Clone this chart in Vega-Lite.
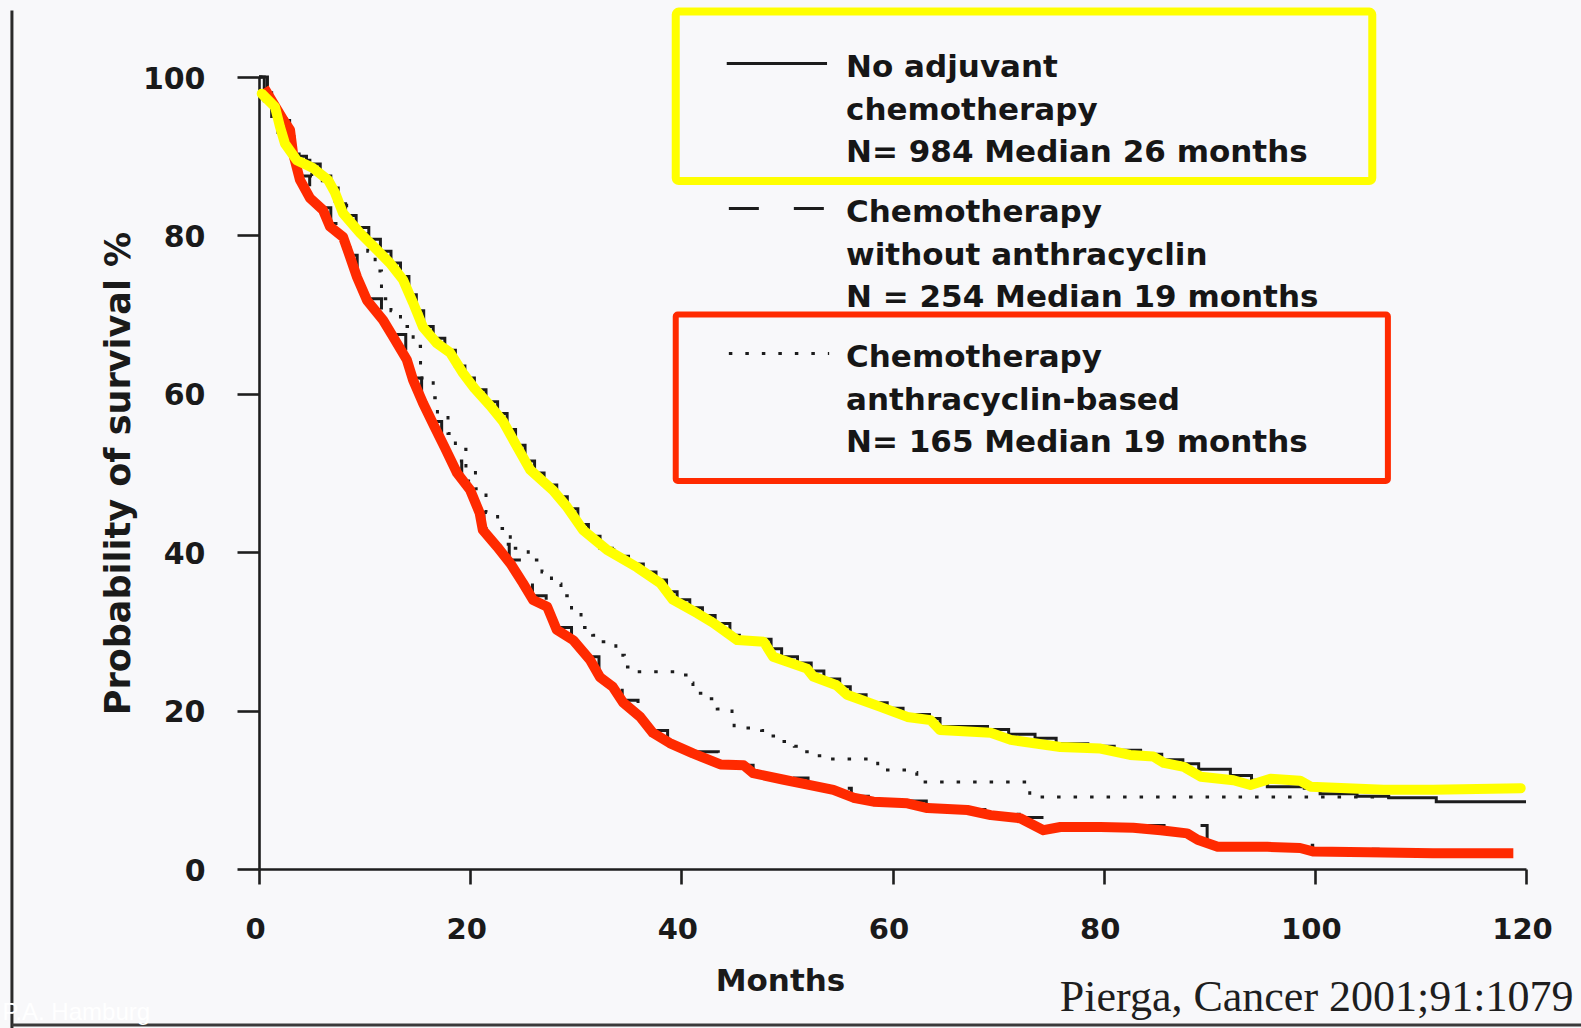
{
  "$schema": "https://vega.github.io/schema/vega-lite/v6.json",
  "width": 1267,
  "height": 792,
  "autosize": {"type": "none"},
  "padding": {"left": 259, "top": 77, "right": 55, "bottom": 159},
  "background": "#f8f8fa",
  "config": {
    "view": {"stroke": null},
    "font": "DejaVu Sans",
    "axis": {
      "grid": false,
      "labelFlush": false,
      "domainColor": "#1e1e1e",
      "domainWidth": 2.6,
      "tickColor": "#1e1e1e",
      "tickWidth": 2.6,
      "labelColor": "#1a1a1a",
      "labelFont": "DejaVu Sans",
      "labelFontWeight": "bold",
      "titleColor": "#1a1a1a",
      "titleFont": "DejaVu Sans",
      "titleFontWeight": "bold"
    }
  },
  "datasets": {
    "km": [
      {"series": "No adjuvant chemotherapy", "month": 0, "survival": 100},
      {"series": "No adjuvant chemotherapy", "month": 0.5, "survival": 97},
      {"series": "No adjuvant chemotherapy", "month": 1.2, "survival": 95},
      {"series": "No adjuvant chemotherapy", "month": 1.8, "survival": 93},
      {"series": "No adjuvant chemotherapy", "month": 2.4, "survival": 91.5},
      {"series": "No adjuvant chemotherapy", "month": 3.2, "survival": 90},
      {"series": "No adjuvant chemotherapy", "month": 4.5, "survival": 89},
      {"series": "No adjuvant chemotherapy", "month": 5.8, "survival": 87.5},
      {"series": "No adjuvant chemotherapy", "month": 6.8, "survival": 86},
      {"series": "No adjuvant chemotherapy", "month": 7.5, "survival": 84},
      {"series": "No adjuvant chemotherapy", "month": 8.2, "survival": 82.5},
      {"series": "No adjuvant chemotherapy", "month": 9.2, "survival": 81},
      {"series": "No adjuvant chemotherapy", "month": 10.4, "survival": 79.5},
      {"series": "No adjuvant chemotherapy", "month": 11.5, "survival": 78},
      {"series": "No adjuvant chemotherapy", "month": 12.5, "survival": 76.5},
      {"series": "No adjuvant chemotherapy", "month": 13.4, "survival": 74.8},
      {"series": "No adjuvant chemotherapy", "month": 14.2, "survival": 72.5},
      {"series": "No adjuvant chemotherapy", "month": 14.9, "survival": 70.5},
      {"series": "No adjuvant chemotherapy", "month": 15.6, "survival": 68.5},
      {"series": "No adjuvant chemotherapy", "month": 16.5, "survival": 67},
      {"series": "No adjuvant chemotherapy", "month": 17.6, "survival": 65.5},
      {"series": "No adjuvant chemotherapy", "month": 18.6, "survival": 63.5},
      {"series": "No adjuvant chemotherapy", "month": 19.5, "survival": 62},
      {"series": "No adjuvant chemotherapy", "month": 20.4, "survival": 60.5},
      {"series": "No adjuvant chemotherapy", "month": 21.5, "survival": 59},
      {"series": "No adjuvant chemotherapy", "month": 22.6, "survival": 57.5},
      {"series": "No adjuvant chemotherapy", "month": 23.5, "survival": 55.5},
      {"series": "No adjuvant chemotherapy", "month": 24.3, "survival": 53.5},
      {"series": "No adjuvant chemotherapy", "month": 25.2, "survival": 51.5},
      {"series": "No adjuvant chemotherapy", "month": 26.1, "survival": 50},
      {"series": "No adjuvant chemotherapy", "month": 27.0, "survival": 48.5},
      {"series": "No adjuvant chemotherapy", "month": 28.2, "survival": 47},
      {"series": "No adjuvant chemotherapy", "month": 29.2, "survival": 45.5},
      {"series": "No adjuvant chemotherapy", "month": 30.2, "survival": 43.5},
      {"series": "No adjuvant chemotherapy", "month": 31.2, "survival": 42},
      {"series": "No adjuvant chemotherapy", "month": 32.3, "survival": 40.5},
      {"series": "No adjuvant chemotherapy", "month": 33.6, "survival": 39.5},
      {"series": "No adjuvant chemotherapy", "month": 35.0, "survival": 38.5},
      {"series": "No adjuvant chemotherapy", "month": 36.4, "survival": 37.5},
      {"series": "No adjuvant chemotherapy", "month": 37.6, "survival": 36.5},
      {"series": "No adjuvant chemotherapy", "month": 38.6, "survival": 35},
      {"series": "No adjuvant chemotherapy", "month": 39.6, "survival": 34},
      {"series": "No adjuvant chemotherapy", "month": 40.8, "survival": 33},
      {"series": "No adjuvant chemotherapy", "month": 42.0, "survival": 32},
      {"series": "No adjuvant chemotherapy", "month": 43.2, "survival": 31},
      {"series": "No adjuvant chemotherapy", "month": 44.6, "survival": 29.5},
      {"series": "No adjuvant chemotherapy", "month": 45.5, "survival": 29},
      {"series": "No adjuvant chemotherapy", "month": 48.5, "survival": 27.8},
      {"series": "No adjuvant chemotherapy", "month": 49.5, "survival": 26.8},
      {"series": "No adjuvant chemotherapy", "month": 51.0, "survival": 26},
      {"series": "No adjuvant chemotherapy", "month": 52.3, "survival": 25},
      {"series": "No adjuvant chemotherapy", "month": 53.5, "survival": 24},
      {"series": "No adjuvant chemotherapy", "month": 55.0, "survival": 23},
      {"series": "No adjuvant chemotherapy", "month": 56.0, "survival": 22},
      {"series": "No adjuvant chemotherapy", "month": 57.5, "survival": 21},
      {"series": "No adjuvant chemotherapy", "month": 59.5, "survival": 20.3},
      {"series": "No adjuvant chemotherapy", "month": 61.0, "survival": 19.5},
      {"series": "No adjuvant chemotherapy", "month": 63.5, "survival": 19},
      {"series": "No adjuvant chemotherapy", "month": 64.5, "survival": 18},
      {"series": "No adjuvant chemotherapy", "month": 69.0, "survival": 17.6},
      {"series": "No adjuvant chemotherapy", "month": 71.0, "survival": 17},
      {"series": "No adjuvant chemotherapy", "month": 73.5, "survival": 16.5},
      {"series": "No adjuvant chemotherapy", "month": 75.5, "survival": 15.8},
      {"series": "No adjuvant chemotherapy", "month": 78.5, "survival": 15.5},
      {"series": "No adjuvant chemotherapy", "month": 81.0, "survival": 15},
      {"series": "No adjuvant chemotherapy", "month": 83.5, "survival": 14.5},
      {"series": "No adjuvant chemotherapy", "month": 85.5, "survival": 13.8},
      {"series": "No adjuvant chemotherapy", "month": 87.5, "survival": 13.3},
      {"series": "No adjuvant chemotherapy", "month": 89.0, "survival": 12.6},
      {"series": "No adjuvant chemotherapy", "month": 92.0, "survival": 11.8},
      {"series": "No adjuvant chemotherapy", "month": 94.0, "survival": 11.2},
      {"series": "No adjuvant chemotherapy", "month": 95.5, "survival": 10.4},
      {"series": "No adjuvant chemotherapy", "month": 99.0, "survival": 10.2},
      {"series": "No adjuvant chemotherapy", "month": 100.5, "survival": 9.5},
      {"series": "No adjuvant chemotherapy", "month": 104.0, "survival": 9.2},
      {"series": "No adjuvant chemotherapy", "month": 107.0, "survival": 9.0},
      {"series": "No adjuvant chemotherapy", "month": 111.5, "survival": 8.5},
      {"series": "No adjuvant chemotherapy", "month": 120.0, "survival": 8.5},

      {"series": "Chemotherapy without anthracyclin", "month": 0, "survival": 100},
      {"series": "Chemotherapy without anthracyclin", "month": 0.8, "survival": 98},
      {"series": "Chemotherapy without anthracyclin", "month": 1.6, "survival": 96},
      {"series": "Chemotherapy without anthracyclin", "month": 2.3, "survival": 94.5},
      {"series": "Chemotherapy without anthracyclin", "month": 2.9, "survival": 92.5},
      {"series": "Chemotherapy without anthracyclin", "month": 3.3, "survival": 90},
      {"series": "Chemotherapy without anthracyclin", "month": 3.9, "survival": 87.5},
      {"series": "Chemotherapy without anthracyclin", "month": 4.8, "survival": 85},
      {"series": "Chemotherapy without anthracyclin", "month": 6.0, "survival": 83.5},
      {"series": "Chemotherapy without anthracyclin", "month": 6.8, "survival": 81.5},
      {"series": "Chemotherapy without anthracyclin", "month": 7.9, "survival": 80},
      {"series": "Chemotherapy without anthracyclin", "month": 8.6, "survival": 77.5},
      {"series": "Chemotherapy without anthracyclin", "month": 9.3, "survival": 75},
      {"series": "Chemotherapy without anthracyclin", "month": 10.2, "survival": 72},
      {"series": "Chemotherapy without anthracyclin", "month": 11.6, "survival": 69.5},
      {"series": "Chemotherapy without anthracyclin", "month": 12.7, "survival": 67.5},
      {"series": "Chemotherapy without anthracyclin", "month": 13.9, "survival": 64.5},
      {"series": "Chemotherapy without anthracyclin", "month": 14.6, "survival": 62},
      {"series": "Chemotherapy without anthracyclin", "month": 15.4, "survival": 59},
      {"series": "Chemotherapy without anthracyclin", "month": 16.4, "survival": 56.5},
      {"series": "Chemotherapy without anthracyclin", "month": 17.3, "survival": 54},
      {"series": "Chemotherapy without anthracyclin", "month": 18.3, "survival": 51.5},
      {"series": "Chemotherapy without anthracyclin", "month": 19.2, "survival": 49},
      {"series": "Chemotherapy without anthracyclin", "month": 20.2, "survival": 47.5},
      {"series": "Chemotherapy without anthracyclin", "month": 20.9, "survival": 45},
      {"series": "Chemotherapy without anthracyclin", "month": 21.3, "survival": 43},
      {"series": "Chemotherapy without anthracyclin", "month": 22.4, "survival": 41},
      {"series": "Chemotherapy without anthracyclin", "month": 23.7, "survival": 39},
      {"series": "Chemotherapy without anthracyclin", "month": 24.9, "survival": 36.5},
      {"series": "Chemotherapy without anthracyclin", "month": 25.9, "survival": 34.5},
      {"series": "Chemotherapy without anthracyclin", "month": 27.2, "survival": 33.2},
      {"series": "Chemotherapy without anthracyclin", "month": 28.1, "survival": 30.5},
      {"series": "Chemotherapy without anthracyclin", "month": 29.6, "survival": 29},
      {"series": "Chemotherapy without anthracyclin", "month": 31.2, "survival": 26.8},
      {"series": "Chemotherapy without anthracyclin", "month": 32.2, "survival": 24.5},
      {"series": "Chemotherapy without anthracyclin", "month": 33.4, "survival": 23.2},
      {"series": "Chemotherapy without anthracyclin", "month": 34.4, "survival": 21.3},
      {"series": "Chemotherapy without anthracyclin", "month": 35.9, "survival": 19.5},
      {"series": "Chemotherapy without anthracyclin", "month": 37.1, "survival": 17.5},
      {"series": "Chemotherapy without anthracyclin", "month": 38.7, "survival": 16},
      {"series": "Chemotherapy without anthracyclin", "month": 40.8, "survival": 14.8},
      {"series": "Chemotherapy without anthracyclin", "month": 43.5, "survival": 13.5},
      {"series": "Chemotherapy without anthracyclin", "month": 45.7, "survival": 13.1},
      {"series": "Chemotherapy without anthracyclin", "month": 46.8, "survival": 12.2},
      {"series": "Chemotherapy without anthracyclin", "month": 49.4, "survival": 11.5},
      {"series": "Chemotherapy without anthracyclin", "month": 52.0, "survival": 10.8},
      {"series": "Chemotherapy without anthracyclin", "month": 54.2, "survival": 10.2},
      {"series": "Chemotherapy without anthracyclin", "month": 56.1, "survival": 9.2},
      {"series": "Chemotherapy without anthracyclin", "month": 58.0, "survival": 8.6},
      {"series": "Chemotherapy without anthracyclin", "month": 63.2, "survival": 7.9},
      {"series": "Chemotherapy without anthracyclin", "month": 66.9, "survival": 7.5},
      {"series": "Chemotherapy without anthracyclin", "month": 69.2, "survival": 6.9},
      {"series": "Chemotherapy without anthracyclin", "month": 72.0, "survival": 6.5},
      {"series": "Chemotherapy without anthracyclin", "month": 74.4, "survival": 5.5},
      {"series": "Chemotherapy without anthracyclin", "month": 89.8, "survival": 3.0},
      {"series": "Chemotherapy without anthracyclin", "month": 99.8, "survival": 2.5},
      {"series": "Chemotherapy without anthracyclin", "month": 106.0, "survival": 2.2},
      {"series": "Chemotherapy without anthracyclin", "month": 118.0, "survival": 2.2},

      {"series": "Chemotherapy anthracyclin-based", "month": 0, "survival": 100},
      {"series": "Chemotherapy anthracyclin-based", "month": 0.6, "survival": 97},
      {"series": "Chemotherapy anthracyclin-based", "month": 1.5, "survival": 95},
      {"series": "Chemotherapy anthracyclin-based", "month": 2.2, "survival": 93},
      {"series": "Chemotherapy anthracyclin-based", "month": 3.0, "survival": 91},
      {"series": "Chemotherapy anthracyclin-based", "month": 3.8, "survival": 89.5},
      {"series": "Chemotherapy anthracyclin-based", "month": 5.0, "survival": 87.5},
      {"series": "Chemotherapy anthracyclin-based", "month": 6.0, "survival": 86},
      {"series": "Chemotherapy anthracyclin-based", "month": 7.2, "survival": 84},
      {"series": "Chemotherapy anthracyclin-based", "month": 8.3, "survival": 82.5},
      {"series": "Chemotherapy anthracyclin-based", "month": 9.3, "survival": 80.5},
      {"series": "Chemotherapy anthracyclin-based", "month": 10.3, "survival": 78},
      {"series": "Chemotherapy anthracyclin-based", "month": 11.0, "survival": 75.5},
      {"series": "Chemotherapy anthracyclin-based", "month": 11.6, "survival": 72},
      {"series": "Chemotherapy anthracyclin-based", "month": 12.5, "survival": 70.5},
      {"series": "Chemotherapy anthracyclin-based", "month": 13.4, "survival": 68.5},
      {"series": "Chemotherapy anthracyclin-based", "month": 14.6, "survival": 66},
      {"series": "Chemotherapy anthracyclin-based", "month": 15.3, "survival": 62},
      {"series": "Chemotherapy anthracyclin-based", "month": 16.5, "survival": 59.5},
      {"series": "Chemotherapy anthracyclin-based", "month": 16.9, "survival": 57.5},
      {"series": "Chemotherapy anthracyclin-based", "month": 17.9, "survival": 55},
      {"series": "Chemotherapy anthracyclin-based", "month": 18.6, "survival": 53},
      {"series": "Chemotherapy anthracyclin-based", "month": 19.6, "survival": 50.5},
      {"series": "Chemotherapy anthracyclin-based", "month": 20.5, "survival": 48},
      {"series": "Chemotherapy anthracyclin-based", "month": 21.5, "survival": 45},
      {"series": "Chemotherapy anthracyclin-based", "month": 22.6, "survival": 43},
      {"series": "Chemotherapy anthracyclin-based", "month": 23.8, "survival": 40.5},
      {"series": "Chemotherapy anthracyclin-based", "month": 25.5, "survival": 39},
      {"series": "Chemotherapy anthracyclin-based", "month": 26.8, "survival": 37.5},
      {"series": "Chemotherapy anthracyclin-based", "month": 27.7, "survival": 36},
      {"series": "Chemotherapy anthracyclin-based", "month": 28.6, "survival": 34.5},
      {"series": "Chemotherapy anthracyclin-based", "month": 29.6, "survival": 32.5},
      {"series": "Chemotherapy anthracyclin-based", "month": 30.5, "survival": 30.5},
      {"series": "Chemotherapy anthracyclin-based", "month": 31.6, "survival": 29.5},
      {"series": "Chemotherapy anthracyclin-based", "month": 32.6, "survival": 28.7},
      {"series": "Chemotherapy anthracyclin-based", "month": 33.8, "survival": 27},
      {"series": "Chemotherapy anthracyclin-based", "month": 34.6, "survival": 25.5},
      {"series": "Chemotherapy anthracyclin-based", "month": 35.4, "survival": 24.9},
      {"series": "Chemotherapy anthracyclin-based", "month": 39.8, "survival": 24.5},
      {"series": "Chemotherapy anthracyclin-based", "month": 40.6, "survival": 23.5},
      {"series": "Chemotherapy anthracyclin-based", "month": 41.1, "survival": 22.2},
      {"series": "Chemotherapy anthracyclin-based", "month": 42.0, "survival": 21.5},
      {"series": "Chemotherapy anthracyclin-based", "month": 43.4, "survival": 20.2},
      {"series": "Chemotherapy anthracyclin-based", "month": 44.8, "survival": 19.2},
      {"series": "Chemotherapy anthracyclin-based", "month": 45.0, "survival": 17.8},
      {"series": "Chemotherapy anthracyclin-based", "month": 47.6, "survival": 17.5},
      {"series": "Chemotherapy anthracyclin-based", "month": 48.5, "survival": 16.8},
      {"series": "Chemotherapy anthracyclin-based", "month": 49.5, "survival": 16.1},
      {"series": "Chemotherapy anthracyclin-based", "month": 50.7, "survival": 15.5},
      {"series": "Chemotherapy anthracyclin-based", "month": 51.6, "survival": 14.8},
      {"series": "Chemotherapy anthracyclin-based", "month": 52.6, "survival": 14.3},
      {"series": "Chemotherapy anthracyclin-based", "month": 53.8, "survival": 13.9},
      {"series": "Chemotherapy anthracyclin-based", "month": 58.6, "survival": 12.5},
      {"series": "Chemotherapy anthracyclin-based", "month": 61.7, "survival": 12.2},
      {"series": "Chemotherapy anthracyclin-based", "month": 62.3, "survival": 11.0},
      {"series": "Chemotherapy anthracyclin-based", "month": 72.8, "survival": 10.6},
      {"series": "Chemotherapy anthracyclin-based", "month": 73.0, "survival": 9.1},
      {"series": "Chemotherapy anthracyclin-based", "month": 107.0, "survival": 9.1}
    ],
    "traces": [
      {"series": "No adjuvant chemotherapy", "month": 0.26, "survival": 97.9},
      {"series": "No adjuvant chemotherapy", "month": 1.52, "survival": 96.2},
      {"series": "No adjuvant chemotherapy", "month": 1.99, "survival": 93.7},
      {"series": "No adjuvant chemotherapy", "month": 2.46, "survival": 91.6},
      {"series": "No adjuvant chemotherapy", "month": 3.57, "survival": 89.5},
      {"series": "No adjuvant chemotherapy", "month": 5.12, "survival": 88.5},
      {"series": "No adjuvant chemotherapy", "month": 6.54, "survival": 87.0},
      {"series": "No adjuvant chemotherapy", "month": 7.2, "survival": 85.4},
      {"series": "No adjuvant chemotherapy", "month": 7.96, "survival": 82.8},
      {"series": "No adjuvant chemotherapy", "month": 9.57, "survival": 80.3},
      {"series": "No adjuvant chemotherapy", "month": 11.15, "survival": 78.2},
      {"series": "No adjuvant chemotherapy", "month": 12.41, "survival": 76.5},
      {"series": "No adjuvant chemotherapy", "month": 13.64, "survival": 74.4},
      {"series": "No adjuvant chemotherapy", "month": 14.59, "survival": 71.5},
      {"series": "No adjuvant chemotherapy", "month": 15.54, "survival": 68.4},
      {"series": "No adjuvant chemotherapy", "month": 16.84, "survival": 66.4},
      {"series": "No adjuvant chemotherapy", "month": 18.1, "survival": 65.2},
      {"series": "No adjuvant chemotherapy", "month": 19.33, "survival": 62.6},
      {"series": "No adjuvant chemotherapy", "month": 20.4, "survival": 60.7},
      {"series": "No adjuvant chemotherapy", "month": 21.89, "survival": 58.5},
      {"series": "No adjuvant chemotherapy", "month": 23.12, "survival": 56.5},
      {"series": "No adjuvant chemotherapy", "month": 24.45, "survival": 53.3},
      {"series": "No adjuvant chemotherapy", "month": 25.68, "survival": 50.4},
      {"series": "No adjuvant chemotherapy", "month": 27.86, "survival": 47.8},
      {"series": "No adjuvant chemotherapy", "month": 29.18, "survival": 45.7},
      {"series": "No adjuvant chemotherapy", "month": 30.7, "survival": 42.8},
      {"series": "No adjuvant chemotherapy", "month": 32.97, "survival": 40.3},
      {"series": "No adjuvant chemotherapy", "month": 35.8, "survival": 38.1},
      {"series": "No adjuvant chemotherapy", "month": 38.0, "survival": 36.1},
      {"series": "No adjuvant chemotherapy", "month": 39.2, "survival": 34.0},
      {"series": "No adjuvant chemotherapy", "month": 41.5, "survival": 32.3},
      {"series": "No adjuvant chemotherapy", "month": 43.0, "survival": 31.1},
      {"series": "No adjuvant chemotherapy", "month": 45.3, "survival": 28.9},
      {"series": "No adjuvant chemotherapy", "month": 47.8, "survival": 28.7},
      {"series": "No adjuvant chemotherapy", "month": 48.7, "survival": 26.8},
      {"series": "No adjuvant chemotherapy", "month": 51.9, "survival": 25.3},
      {"series": "No adjuvant chemotherapy", "month": 52.5, "survival": 24.3},
      {"series": "No adjuvant chemotherapy", "month": 54.7, "survival": 23.2},
      {"series": "No adjuvant chemotherapy", "month": 55.7, "survival": 22.0},
      {"series": "No adjuvant chemotherapy", "month": 58.8, "survival": 20.5},
      {"series": "No adjuvant chemotherapy", "month": 61.4, "survival": 19.2},
      {"series": "No adjuvant chemotherapy", "month": 63.6, "survival": 18.8},
      {"series": "No adjuvant chemotherapy", "month": 64.5, "survival": 17.55},
      {"series": "No adjuvant chemotherapy", "month": 69.3, "survival": 17.2},
      {"series": "No adjuvant chemotherapy", "month": 71.2, "survival": 16.3},
      {"series": "No adjuvant chemotherapy", "month": 75.9, "survival": 15.4},
      {"series": "No adjuvant chemotherapy", "month": 79.7, "survival": 15.2},
      {"series": "No adjuvant chemotherapy", "month": 82.5, "survival": 14.4},
      {"series": "No adjuvant chemotherapy", "month": 84.7, "survival": 14.2},
      {"series": "No adjuvant chemotherapy", "month": 85.7, "survival": 13.4},
      {"series": "No adjuvant chemotherapy", "month": 87.6, "survival": 12.9},
      {"series": "No adjuvant chemotherapy", "month": 89.2, "survival": 11.65},
      {"series": "No adjuvant chemotherapy", "month": 92.3, "survival": 11.2},
      {"series": "No adjuvant chemotherapy", "month": 93.9, "survival": 10.6},
      {"series": "No adjuvant chemotherapy", "month": 95.8, "survival": 11.4},
      {"series": "No adjuvant chemotherapy", "month": 98.6, "survival": 11.15},
      {"series": "No adjuvant chemotherapy", "month": 99.6, "survival": 10.4},
      {"series": "No adjuvant chemotherapy", "month": 106.5, "survival": 10.0},
      {"series": "No adjuvant chemotherapy", "month": 111.2, "survival": 10.0},
      {"series": "No adjuvant chemotherapy", "month": 119.5, "survival": 10.2},

      {"series": "Chemotherapy without anthracyclin", "month": 0.5, "survival": 98.6},
      {"series": "Chemotherapy without anthracyclin", "month": 2.3, "survival": 94.6},
      {"series": "Chemotherapy without anthracyclin", "month": 2.94, "survival": 93.3},
      {"series": "Chemotherapy without anthracyclin", "month": 3.22, "survival": 90.4},
      {"series": "Chemotherapy without anthracyclin", "month": 3.88, "survival": 87.0},
      {"series": "Chemotherapy without anthracyclin", "month": 4.83, "survival": 84.7},
      {"series": "Chemotherapy without anthracyclin", "month": 6.06, "survival": 83.2},
      {"series": "Chemotherapy without anthracyclin", "month": 6.73, "survival": 81.1},
      {"series": "Chemotherapy without anthracyclin", "month": 7.96, "survival": 79.8},
      {"series": "Chemotherapy without anthracyclin", "month": 8.62, "survival": 77.3},
      {"series": "Chemotherapy without anthracyclin", "month": 9.29, "survival": 74.7},
      {"series": "Chemotherapy without anthracyclin", "month": 10.23, "survival": 71.8},
      {"series": "Chemotherapy without anthracyclin", "month": 11.75, "survival": 69.3},
      {"series": "Chemotherapy without anthracyclin", "month": 12.7, "survival": 67.2},
      {"series": "Chemotherapy without anthracyclin", "month": 14.0, "survival": 64.3},
      {"series": "Chemotherapy without anthracyclin", "month": 14.6, "survival": 61.7},
      {"series": "Chemotherapy without anthracyclin", "month": 15.54, "survival": 58.8},
      {"series": "Chemotherapy without anthracyclin", "month": 16.6, "survival": 55.9},
      {"series": "Chemotherapy without anthracyclin", "month": 17.6, "survival": 53.2},
      {"series": "Chemotherapy without anthracyclin", "month": 18.76, "survival": 50.0},
      {"series": "Chemotherapy without anthracyclin", "month": 20.0, "survival": 47.85},
      {"series": "Chemotherapy without anthracyclin", "month": 20.9, "survival": 44.95},
      {"series": "Chemotherapy without anthracyclin", "month": 21.2, "survival": 42.8},
      {"series": "Chemotherapy without anthracyclin", "month": 22.55, "survival": 40.7},
      {"series": "Chemotherapy without anthracyclin", "month": 23.8, "survival": 38.6},
      {"series": "Chemotherapy without anthracyclin", "month": 25.0, "survival": 36.1},
      {"series": "Chemotherapy without anthracyclin", "month": 25.96, "survival": 33.96},
      {"series": "Chemotherapy without anthracyclin", "month": 27.3, "survival": 33.1},
      {"series": "Chemotherapy without anthracyclin", "month": 28.2, "survival": 30.2},
      {"series": "Chemotherapy without anthracyclin", "month": 29.75, "survival": 28.9},
      {"series": "Chemotherapy without anthracyclin", "month": 31.36, "survival": 26.4},
      {"series": "Chemotherapy without anthracyclin", "month": 32.3, "survival": 24.2},
      {"series": "Chemotherapy without anthracyclin", "month": 33.5, "survival": 23.0},
      {"series": "Chemotherapy without anthracyclin", "month": 34.5, "survival": 21.0},
      {"series": "Chemotherapy without anthracyclin", "month": 36.1, "survival": 19.2},
      {"series": "Chemotherapy without anthracyclin", "month": 37.3, "survival": 17.2},
      {"series": "Chemotherapy without anthracyclin", "month": 38.9, "survival": 15.9},
      {"series": "Chemotherapy without anthracyclin", "month": 41.1, "survival": 14.6},
      {"series": "Chemotherapy without anthracyclin", "month": 43.7, "survival": 13.2},
      {"series": "Chemotherapy without anthracyclin", "month": 45.9, "survival": 13.1},
      {"series": "Chemotherapy without anthracyclin", "month": 46.8, "survival": 12.1},
      {"series": "Chemotherapy without anthracyclin", "month": 49.6, "survival": 11.3},
      {"series": "Chemotherapy without anthracyclin", "month": 52.2, "survival": 10.6},
      {"series": "Chemotherapy without anthracyclin", "month": 54.4, "survival": 10.0},
      {"series": "Chemotherapy without anthracyclin", "month": 56.3, "survival": 9.0},
      {"series": "Chemotherapy without anthracyclin", "month": 58.2, "survival": 8.5},
      {"series": "Chemotherapy without anthracyclin", "month": 61.4, "survival": 8.3},
      {"series": "Chemotherapy without anthracyclin", "month": 63.3, "survival": 7.7},
      {"series": "Chemotherapy without anthracyclin", "month": 67.1, "survival": 7.45},
      {"series": "Chemotherapy without anthracyclin", "month": 69.3, "survival": 6.8},
      {"series": "Chemotherapy without anthracyclin", "month": 72.1, "survival": 6.4},
      {"series": "Chemotherapy without anthracyclin", "month": 74.3, "survival": 4.9},
      {"series": "Chemotherapy without anthracyclin", "month": 75.9, "survival": 5.3},
      {"series": "Chemotherapy without anthracyclin", "month": 79.7, "survival": 5.3},
      {"series": "Chemotherapy without anthracyclin", "month": 82.8, "survival": 5.2},
      {"series": "Chemotherapy without anthracyclin", "month": 85.4, "survival": 4.9},
      {"series": "Chemotherapy without anthracyclin", "month": 87.9, "survival": 4.5},
      {"series": "Chemotherapy without anthracyclin", "month": 88.9, "survival": 3.7},
      {"series": "Chemotherapy without anthracyclin", "month": 90.8, "survival": 2.8},
      {"series": "Chemotherapy without anthracyclin", "month": 95.5, "survival": 2.8},
      {"series": "Chemotherapy without anthracyclin", "month": 98.6, "survival": 2.65},
      {"series": "Chemotherapy without anthracyclin", "month": 99.9, "survival": 2.2},
      {"series": "Chemotherapy without anthracyclin", "month": 105.0, "survival": 2.1},
      {"series": "Chemotherapy without anthracyclin", "month": 111.2, "survival": 2.0},
      {"series": "Chemotherapy without anthracyclin", "month": 118.8, "survival": 2.0}
    ],
    "legend": [
      {"series": "No adjuvant chemotherapy", "label": ["No adjuvant", "chemotherapy", "N= 984 Median 26 months"], "text_month": 55.6, "text_pct": 99.96, "key_from": 44.3, "key_to": 53.8, "key_pct": 101.7},
      {"series": "Chemotherapy without anthracyclin", "label": ["Chemotherapy", "without anthracyclin", "N = 254 Median 19 months"], "text_month": 55.6, "text_pct": 81.69, "key_from": 44.5, "key_to": 53.8, "key_pct": 83.4},
      {"series": "Chemotherapy anthracyclin-based", "label": ["Chemotherapy", "anthracyclin-based", "N= 165 Median 19 months"], "text_month": 55.6, "text_pct": 63.38, "key_from": 44.5, "key_to": 54.0, "key_pct": 65.1}
    ],
    "boxes": [
      {"series": "No adjuvant chemotherapy", "from": 39.47, "to": 105.44, "top": 108.26, "bottom": 86.87},
      {"series": "Chemotherapy anthracyclin-based", "from": 39.47, "to": 106.92, "top": 70.0, "bottom": 48.99}
    ],
    "page": [{"source": "Pierga, Cancer 2001;91:1079", "footer": "P.A. Hamburg"}]
  },
  "layer": [
    {
      "data": {"name": "page"},
      "description": "scanned page frame: left edge",
      "mark": {"type": "rule", "color": "#2a2a2a", "strokeWidth": 3},
      "encoding": {
        "x": {"datum": -23.4, "type": "quantitative", "scale": {"domain": [0, 120], "nice": false}},
        "y": {"datum": 108.4, "type": "quantitative", "scale": {"domain": [0, 100], "nice": false}},
        "y2": {"datum": -21}
      }
    },
    {
      "data": {"name": "page"},
      "description": "scanned page frame: bottom edge",
      "mark": {"type": "rule", "color": "#3a3a3a", "strokeWidth": 3},
      "encoding": {
        "x": {"datum": -23.4, "type": "quantitative", "scale": {"domain": [0, 120], "nice": false}},
        "x2": {"datum": 126},
        "y": {"datum": -19.7, "type": "quantitative", "scale": {"domain": [0, 100], "nice": false}}
      }
    },
    {
      "data": {"name": "km"},
      "mark": {"type": "line", "interpolate": "step-after", "color": "#1c1c1c", "strokeWidth": 3},
      "encoding": {
        "x": {
          "field": "month", "type": "quantitative",
          "scale": {"domain": [0, 120], "nice": false},
          "axis": {
            "title": "Months", "values": [0, 20, 40, 60, 80, 100, 120],
            "tickSize": 15, "labelPadding": 54, "labelBaseline": "alphabetic", "labelOffset": -4,
            "labelFontSize": 29, "titleFontSize": 31,
            "titleX": 521, "titleY": 121, "titleAlign": "center", "titleBaseline": "alphabetic"
          }
        },
        "y": {
          "field": "survival", "type": "quantitative",
          "scale": {"domain": [0, 100], "nice": false},
          "axis": {
            "title": "Probability of survival %", "values": [0, 20, 40, 60, 80, 100],
            "tickSize": 22, "labelPadding": 32, "labelFontSize": 30, "labelOffset": 2, "titleFontSize": 35,
            "titleX": -141, "titleY": 396, "titleAngle": -90, "titleAlign": "center", "titleBaseline": "middle"
          }
        },
        "strokeDash": {
          "field": "series", "type": "nominal",
          "scale": {
            "domain": ["No adjuvant chemotherapy", "Chemotherapy without anthracyclin", "Chemotherapy anthracyclin-based"],
            "range": [[1, 0], [30, 35], [3.5, 13]]
          },
          "legend": null
        }
      }
    },
    {
      "data": {"name": "traces"},
      "transform": [{"filter": "datum.series === 'Chemotherapy without anthracyclin'"}],
      "mark": {"type": "line", "color": "#ff2a00", "strokeWidth": 10, "strokeCap": "butt", "strokeJoin": "round"},
      "encoding": {
        "x": {"field": "month", "type": "quantitative", "scale": {"domain": [0, 120], "nice": false}},
        "y": {"field": "survival", "type": "quantitative", "scale": {"domain": [0, 100], "nice": false}}
      }
    },
    {
      "data": {"name": "traces"},
      "transform": [{"filter": "datum.series === 'No adjuvant chemotherapy'"}],
      "mark": {"type": "line", "color": "#ffff00", "strokeWidth": 10, "strokeCap": "round", "strokeJoin": "round"},
      "encoding": {
        "x": {"field": "month", "type": "quantitative", "scale": {"domain": [0, 120], "nice": false}},
        "y": {"field": "survival", "type": "quantitative", "scale": {"domain": [0, 100], "nice": false}}
      }
    },
    {
      "data": {"name": "legend"},
      "mark": {"type": "rule", "color": "#1c1c1c", "strokeWidth": 3},
      "encoding": {
        "x": {"field": "key_from", "type": "quantitative", "scale": {"domain": [0, 120], "nice": false}},
        "x2": {"field": "key_to"},
        "y": {"field": "key_pct", "type": "quantitative", "scale": {"domain": [0, 100], "nice": false}},
        "strokeDash": {"field": "series", "type": "nominal", "legend": null}
      }
    },
    {
      "data": {"name": "legend"},
      "mark": {"type": "text", "align": "left", "baseline": "alphabetic", "font": "DejaVu Sans", "fontWeight": "bold", "fontSize": 31, "lineHeight": 42.5, "color": "#161616"},
      "encoding": {
        "x": {"field": "text_month", "type": "quantitative", "scale": {"domain": [0, 120], "nice": false}},
        "y": {"field": "text_pct", "type": "quantitative", "scale": {"domain": [0, 100], "nice": false}},
        "text": {"field": "label"}
      }
    },
    {
      "data": {"name": "boxes"},
      "transform": [{"filter": "datum.series === 'No adjuvant chemotherapy'"}],
      "mark": {"type": "rect", "filled": false, "stroke": "#ffff00", "strokeWidth": 8, "cornerRadius": 3},
      "encoding": {
        "x": {"field": "from", "type": "quantitative", "scale": {"domain": [0, 120], "nice": false}},
        "x2": {"field": "to"},
        "y": {"field": "top", "type": "quantitative", "scale": {"domain": [0, 100], "nice": false}},
        "y2": {"field": "bottom"}
      }
    },
    {
      "data": {"name": "boxes"},
      "transform": [{"filter": "datum.series === 'Chemotherapy anthracyclin-based'"}],
      "mark": {"type": "rect", "filled": false, "stroke": "#ff2a00", "strokeWidth": 6, "cornerRadius": 2},
      "encoding": {
        "x": {"field": "from", "type": "quantitative", "scale": {"domain": [0, 120], "nice": false}},
        "x2": {"field": "to"},
        "y": {"field": "top", "type": "quantitative", "scale": {"domain": [0, 100], "nice": false}},
        "y2": {"field": "bottom"}
      }
    },
    {
      "data": {"name": "page"},
      "description": "source citation",
      "mark": {"type": "text", "align": "right", "baseline": "alphabetic", "font": "Liberation Serif", "fontSize": 44, "color": "#1e1e1e"},
      "encoding": {
        "x": {"datum": 124.5, "type": "quantitative", "scale": {"domain": [0, 120], "nice": false}},
        "y": {"datum": -17.9, "type": "quantitative", "scale": {"domain": [0, 100], "nice": false}},
        "text": {"field": "source"}
      }
    },
    {
      "data": {"name": "page"},
      "description": "faint slide footer",
      "mark": {"type": "text", "align": "left", "baseline": "alphabetic", "font": "Liberation Sans", "fontSize": 24, "color": "#ffffff"},
      "encoding": {
        "x": {"datum": -24.3, "type": "quantitative", "scale": {"domain": [0, 120], "nice": false}},
        "y": {"datum": -19.1, "type": "quantitative", "scale": {"domain": [0, 100], "nice": false}},
        "text": {"field": "footer"}
      }
    }
  ]
}
